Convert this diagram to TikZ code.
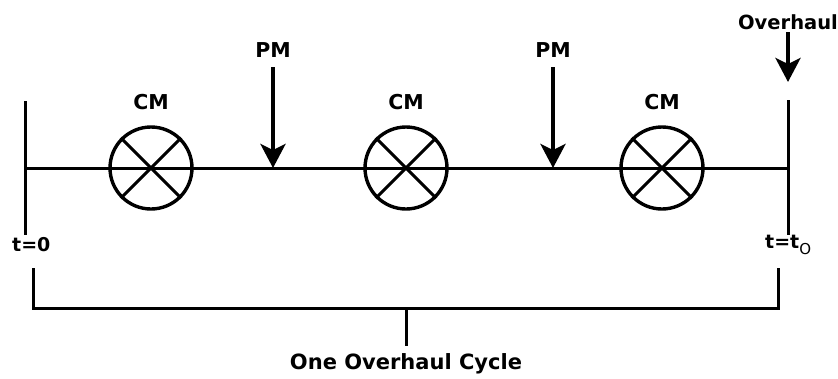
\documentclass[tikz,border=0pt]{standalone}
\usepackage{fontspec}
\setmainfont{DejaVu Sans}
\usetikzlibrary{arrows.meta}

\begin{document}
\begin{tikzpicture}[x=1pt,y=-1pt,
  lbl/.style={font=\bfseries\fontsize{20.5}{20.5}\selectfont, inner sep=0pt},
  tlbl/.style={font=\bfseries\fontsize{19}{19}\selectfont, inner sep=0pt},
  event/.style={circle, draw, line width=3.4pt, minimum size=82pt, inner sep=0pt},
  axis/.style={line width=3pt},
  cross/.style={line width=3.1pt},
  downarrow/.style={line width=4.2pt, -{Stealth[length=24pt,width=25pt,inset=6pt]}},
]
\useasboundingbox (0,0) rectangle (838,378);

% time axis with its two end ticks
\coordinate (t0top) at (25,101);
\coordinate (t0bot) at (25,235);
\coordinate (tOtop) at (788,100);
\coordinate (tObot) at (788,235);
\coordinate (t0) at (25,168);
\coordinate (tO) at (788,168);
\draw[axis] (t0top) -- (t0bot);
\draw[axis] (tOtop) -- (tObot);
\draw[axis] (t0) -- (tO);

\node[tlbl, anchor=west] (lt0) at (12,245) {t=0};
\node[tlbl, anchor=west] (ltO) at (765,245) {t=t\raisebox{-6pt}{\fontsize{15}{15}\mdseries O}};

% corrective maintenance events
\foreach \i/\x in {1/151, 2/406, 3/662} {
  \node[event] (cm\i) at (\x,168) {};
  \draw[cross] (cm\i.45) -- (cm\i.225) (cm\i.135) -- (cm\i.315);
  \node[lbl] (cmlab\i) at (\x,102) {CM};
}

% preventive maintenance events
\foreach \i/\x in {1/273, 2/553} {
  \node[lbl] (pmlab\i) at (\x,50) {PM};
  \coordinate (pmtop\i) at (\x,67);
  \coordinate (pmhit\i) at (\x,168);
  \draw[downarrow] (pmtop\i) -- (pmhit\i);
}

% overhaul at the end of the cycle
\node[font=\bfseries\fontsize{19.5}{19.5}\selectfont, inner sep=0pt] (ovlab) at (788,22) {Overhaul};
\coordinate (ovtop) at (788,32);
\coordinate (ovtip) at (788,82);
\draw[downarrow] (ovtop) -- (ovtip);

% bracket spanning one overhaul cycle
\coordinate (brl) at (33,268);
\coordinate (brlb) at (33,308);
\coordinate (brr) at (778,268);
\coordinate (brrb) at (778,308);
\coordinate (brm) at (406,308);
\coordinate (brmt) at (406,346);
\draw[axis] (brl) -- (brlb) -- (brrb) -- (brr);
\draw[axis] (brm) -- (brmt);
\node[font=\bfseries\fontsize{21}{21}\selectfont, inner sep=0pt] (cyc) at (406,364) {One Overhaul Cycle};
\end{tikzpicture}
\end{document}
